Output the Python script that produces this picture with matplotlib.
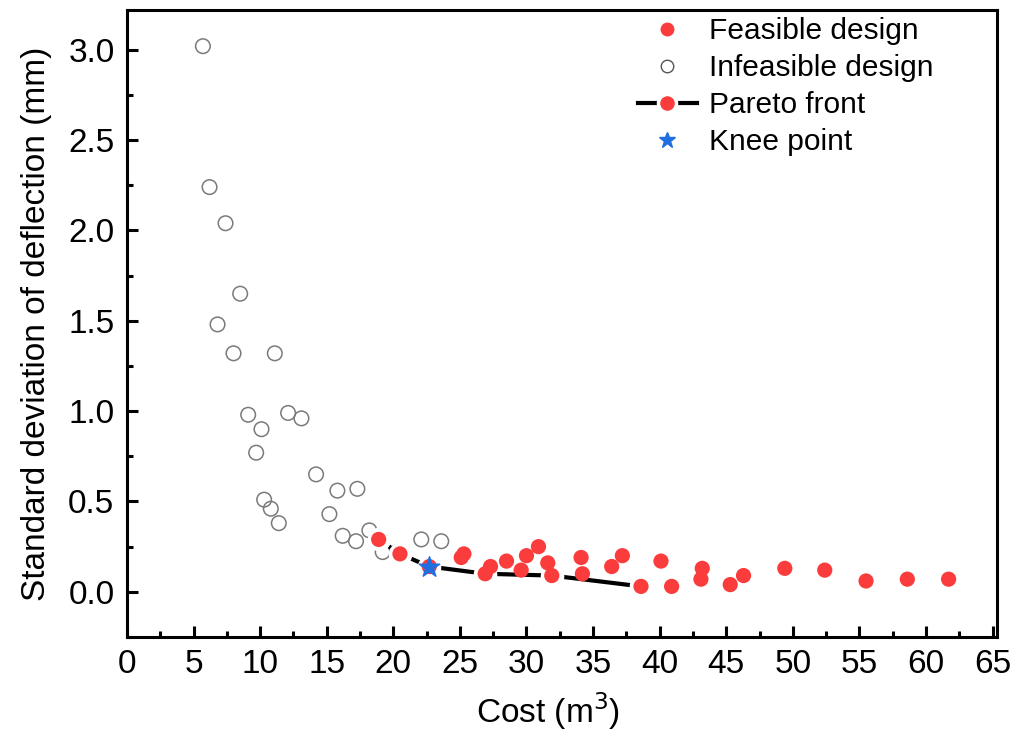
import numpy as np
import matplotlib
matplotlib.use('Agg')
import matplotlib.pyplot as plt
from matplotlib.ticker import MultipleLocator, FormatStrFormatter
from matplotlib.lines import Line2D

plt.rcParams['font.family'] = ['Liberation Sans', 'DejaVu Sans']

# 不可行解 (cost, std of deflection)
infeas_cost = [5.7, 6.2, 7.4, 8.5, 6.8, 8.0, 11.1, 9.1, 10.1, 9.7, 12.1, 13.1,
               14.2, 15.8, 17.3, 15.2, 10.3, 10.8, 11.4, 16.2, 17.2, 18.2,
               19.2, 20.3, 22.1, 23.6]
infeas_std = [3.02, 2.24, 2.04, 1.65, 1.48, 1.32, 1.32, 0.98, 0.90, 0.77, 0.99,
              0.96, 0.65, 0.56, 0.57, 0.43, 0.51, 0.46, 0.38, 0.31, 0.28, 0.34,
              0.22, 0.22, 0.29, 0.28]

# 可行解
feas_cost = [18.9, 20.5, 22.7, 25.1, 25.3, 26.9, 27.3, 28.5, 29.6, 30.0, 30.9,
             31.6, 31.9, 34.1, 34.2, 36.4, 37.2, 38.6, 40.1, 40.9, 43.2, 43.1,
             45.3, 46.3, 49.4, 52.4, 55.5, 58.6, 61.7]
feas_std = [0.29, 0.21, 0.14, 0.19, 0.21, 0.10, 0.14, 0.17, 0.12, 0.20, 0.25,
            0.16, 0.09, 0.19, 0.10, 0.14, 0.20, 0.03, 0.17, 0.03, 0.13, 0.07,
            0.04, 0.09, 0.13, 0.12, 0.06, 0.07, 0.07]

# Pareto 前沿
pareto_cost = [18.9, 20.5, 22.7, 26.9, 31.9, 38.6]
pareto_std = [0.29, 0.21, 0.14, 0.10, 0.09, 0.03]

# 膝点
knee_cost = [22.7]
knee_std = [0.14]

red = '#fa3c3c'
blue = '#1f6fe0'

fig = plt.figure(figsize=(10.2, 7.32), dpi=100)
ax = fig.add_axes([0.1245, 0.1298, 0.8525, 0.8565])

ax.scatter(infeas_cost, infeas_std, s=110, facecolors='none',
           edgecolors='#7a7a7a', linewidths=1.1, zorder=2)
# 前沿线: 白色大点让线段在数据点附近断开
ax.plot(pareto_cost, pareto_std, '-', color='black', linewidth=3,
        marker='o', markersize=17, markerfacecolor='white',
        markeredgecolor='none', zorder=3)
ax.scatter(feas_cost, feas_std, s=120, color=red, edgecolors='none', zorder=4)
ax.scatter(knee_cost, knee_std, marker='*', s=240, color=blue,
           edgecolors=blue, zorder=5)

ax.set_xlim(0, 65.3)
ax.set_ylim(-0.25, 3.22)
ax.xaxis.set_major_locator(MultipleLocator(5))
ax.xaxis.set_minor_locator(MultipleLocator(2.5))
ax.yaxis.set_major_locator(MultipleLocator(0.5))
ax.yaxis.set_minor_locator(MultipleLocator(0.25))
ax.yaxis.set_major_formatter(FormatStrFormatter('%.1f'))

for s in ax.spines.values():
    s.set_linewidth(2.2)
ax.tick_params(which='major', direction='in', length=8, width=2.2,
               labelsize=24, pad=9)
ax.tick_params(which='minor', direction='in', length=4.5, width=2.2)

ax.set_xlabel('Cost (m$^3$)', fontsize=24, labelpad=7)
ax.xaxis.label.set_x(0.484)
ax.set_ylabel('Standard deviation of deflection (mm)', fontsize=24, labelpad=12)

handles = [
    Line2D([], [], linestyle='none', marker='o', markersize=10,
           markerfacecolor=red, markeredgecolor='none'),
    Line2D([], [], linestyle='none', marker='o', markersize=9,
           markerfacecolor='none', markeredgecolor='#555555', markeredgewidth=1),
    Line2D([], [], color='black', linewidth=3, marker='o', markersize=13,
           markerfacecolor=red, markeredgecolor='white', markeredgewidth=2.5),
    Line2D([], [], linestyle='none', marker='*', markersize=12,
           markerfacecolor=blue, markeredgecolor=blue),
]
labels = ['Feasible design', 'Infeasible design', 'Pareto front', 'Knee point']
ax.legend(handles, labels, loc='upper right', frameon=False, fontsize=21.5,
          handlelength=2.0, handletextpad=0.4, labelspacing=0.3,
          borderaxespad=0.1, bbox_to_anchor=(0.945, 1.012))

fig.savefig('out.png', dpi=100)
